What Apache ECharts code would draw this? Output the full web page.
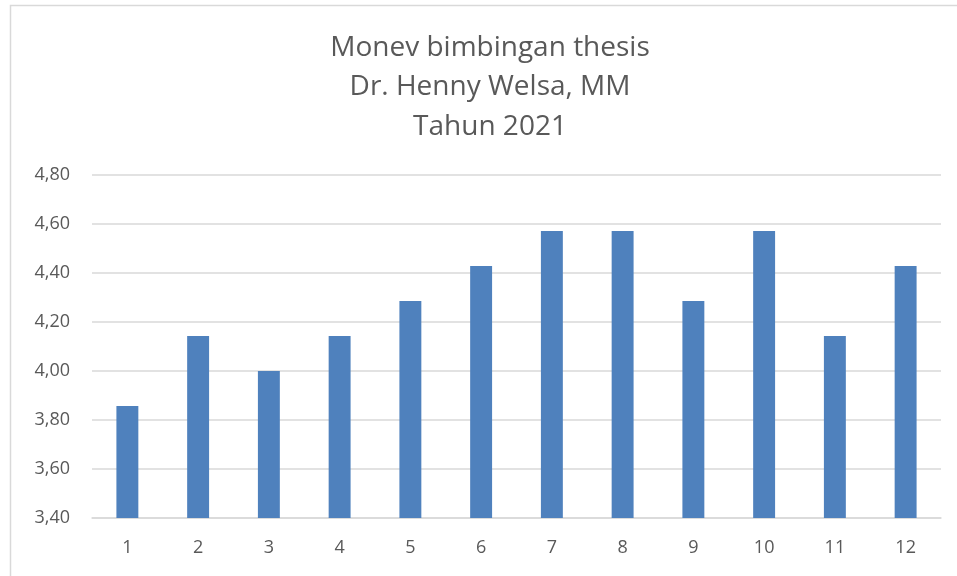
<!DOCTYPE html>
<html>
<head>
<meta charset="utf-8">
<script src="https://cdn.jsdelivr.net/npm/echarts@6/dist/echarts.min.js"></script>
<style>
  html, body { margin: 0; padding: 0; background: #fff; }
  #mychart { width: 957px; height: 576px; }
</style>
</head>
<body>
<div id="mychart"></div>
<script>
// data
const months = ["1", "2", "3", "4", "5", "6", "7", "8", "9", "10", "11", "12"];
const scores = [3.857, 4.143, 4.0, 4.143, 4.286, 4.429, 4.571, 4.571, 4.286, 4.571, 4.143, 4.429];
const titleLines = ["Monev bimbingan thesis", "Dr. Henny Welsa, MM", "Tahun 2021"];

const textColor = "#595959";
const fontName = "'Open Sans', 'Liberation Sans', sans-serif";

const option = {
  animation: false,
  backgroundColor: "#fff",
  graphic: [
    {
      // 外框
      type: "rect",
      shape: { x: 10.5, y: 5.5, width: 1000, height: 600 },
      style: { fill: "none", stroke: "#d9d9d9", lineWidth: 1.5 },
      silent: true
    },
    {
      // 标题（中心在外框中央，略偏右）
      type: "text",
      x: 490,
      y: 28,
      silent: true,
      style: {
        text: titleLines.join("\n"),
        textAlign: "center",
        textVerticalAlign: "top",
        fontFamily: fontName,
        fontSize: 28,
        lineHeight: 39.5,
        fill: textColor
      }
    }
  ],
  grid: { left: 92, right: 16, top: 175, bottom: 58 },
  xAxis: {
    type: "category",
    data: months,
    axisLine: { show: true, lineStyle: { color: "#d9d9d9", width: 1.5 } },
    axisTick: { show: false },
    axisLabel: {
      color: textColor,
      fontFamily: fontName,
      fontSize: 18,
      margin: 21
    }
  },
  yAxis: {
    type: "value",
    min: 3.4,
    max: 4.8,
    interval: 0.2,
    axisLine: { show: false },
    axisTick: { show: false },
    splitLine: { lineStyle: { color: "#d9d9d9", width: 1.5 } },
    axisLabel: {
      color: textColor,
      fontFamily: fontName,
      fontSize: 18,
      margin: 22,
      formatter: v => v.toFixed(2).replace(".", ",")
    }
  },
  series: [{
    type: "bar",
    data: scores,
    barWidth: "31%",
    itemStyle: { color: "#4f81bd" }
  }]
};

const myChart = echarts.init(document.getElementById("mychart"));
myChart.setOption(option);
</script>
</body>
</html>
